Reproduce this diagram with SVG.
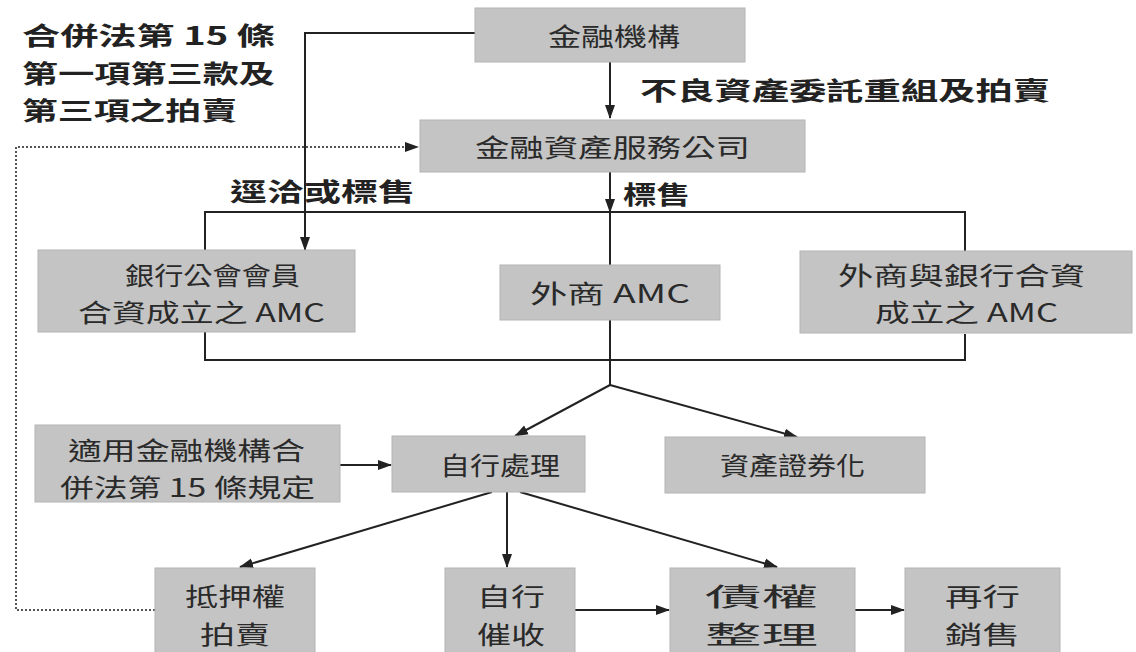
<svg xmlns="http://www.w3.org/2000/svg" width="1136" height="652" viewBox="0 0 1136 652">
<style>
.box{fill:#c4c4c4;stroke:#b4b4b4;stroke-width:1}
.bt{font-family:"Noto Sans CJK TC","Noto Sans CJK SC",sans-serif;font-size:25px;fill:#2a2a2a}
.lb{font-family:"Noto Sans CJK TC","Noto Sans CJK SC",sans-serif;font-size:25px;font-weight:bold;fill:#222}
.ln{fill:none;stroke:#222;stroke-width:2}
.dot{fill:none;stroke:#555;stroke-width:2;stroke-dasharray:2 2}
</style>
<defs>
<marker id="ah" markerWidth="14" markerHeight="12" refX="13" refY="6" orient="auto" markerUnits="userSpaceOnUse">
<path d="M0,1 L14,6 L0,11 Z" fill="#222"/>
</marker>
</defs>
<rect width="1136" height="652" fill="#fff"/>

<g id="labels">
<text class="lb" x="22" y="45" textLength="253" lengthAdjust="spacingAndGlyphs">合併法第 15 條</text>
<text class="lb" x="22" y="83" textLength="253" lengthAdjust="spacingAndGlyphs">第一項第三款及</text>
<text class="lb" x="22" y="120" textLength="215" lengthAdjust="spacingAndGlyphs">第三項之拍賣</text>
<text class="lb" x="640" y="100" textLength="410" lengthAdjust="spacingAndGlyphs">不良資產委託重組及拍賣</text>
<text class="lb" x="230" y="201" textLength="185" lengthAdjust="spacingAndGlyphs">逕洽或標售</text>
<text class="lb" x="623" y="204" textLength="67" lengthAdjust="spacingAndGlyphs">標售</text>
</g>

<g id="connectors">
<line class="ln" x1="610" y1="62" x2="610" y2="118" marker-end="url(#ah)"/>
<polyline class="ln" points="475,33 305,33 305,250" marker-end="url(#ah)"/>
<line class="ln" x1="610" y1="172" x2="610" y2="212" marker-end="url(#ah)"/>
<polyline class="dot" points="155,610 16,610 16,147 418,147" marker-end="url(#ah)"/>
<polyline class="ln" points="205,250 205,212 965,212 965,252"/>
<polyline class="ln" points="205,332 205,360 965,360 965,334"/>
<line class="ln" x1="610" y1="212" x2="610" y2="385"/>
<line class="ln" x1="610" y1="385" x2="515" y2="436" marker-end="url(#ah)"/>
<line class="ln" x1="610" y1="385" x2="797" y2="437" marker-end="url(#ah)"/>
<line class="ln" x1="340" y1="465" x2="391" y2="465" marker-end="url(#ah)"/>
<line class="ln" x1="492" y1="492" x2="240" y2="567" marker-end="url(#ah)"/>
<line class="ln" x1="507" y1="492" x2="507" y2="567" marker-end="url(#ah)"/>
<line class="ln" x1="520" y1="492" x2="777" y2="567" marker-end="url(#ah)"/>
<line class="ln" x1="575" y1="610" x2="669" y2="610" marker-end="url(#ah)"/>
<line class="ln" x1="855" y1="610" x2="904" y2="610" marker-end="url(#ah)"/>
</g>

<g id="n-jinrong">
<rect class="box" x="475" y="8" width="270" height="54"/>
<text class="bt" x="548" y="46" textLength="132" lengthAdjust="spacingAndGlyphs">金融機構</text>
</g>
<g id="n-amc-service">
<rect class="box" x="420" y="120" width="385" height="52"/>
<text class="bt" x="475" y="157" textLength="275" lengthAdjust="spacingAndGlyphs">金融資產服務公司</text>
</g>
<g id="n-bank-amc">
<rect class="box" x="38" y="250" width="317" height="82"/>
<text class="bt" x="125" y="285" textLength="175" lengthAdjust="spacingAndGlyphs">銀行公會會員</text>
<text class="bt" x="78" y="322" textLength="247" lengthAdjust="spacingAndGlyphs">合資成立之 AMC</text>
</g>
<g id="n-foreign-amc">
<rect class="box" x="500" y="265" width="220" height="55"/>
<text class="bt" x="530" y="303" textLength="160" lengthAdjust="spacingAndGlyphs">外商 AMC</text>
</g>
<g id="n-joint-amc">
<rect class="box" x="800" y="251" width="332" height="82"/>
<text class="bt" x="838" y="285" textLength="247" lengthAdjust="spacingAndGlyphs">外商與銀行合資</text>
<text class="bt" x="875" y="322" textLength="183" lengthAdjust="spacingAndGlyphs">成立之 AMC</text>
</g>
<g id="n-rule15">
<rect class="box" x="35" y="425" width="305" height="77"/>
<text class="bt" x="68" y="460" textLength="237" lengthAdjust="spacingAndGlyphs">適用金融機構合</text>
<text class="bt" x="60" y="497" textLength="255" lengthAdjust="spacingAndGlyphs">併法第 15 條規定</text>
</g>
<g id="n-self">
<rect class="box" x="392" y="436" width="193" height="56"/>
<text class="bt" x="440" y="475" textLength="120" lengthAdjust="spacingAndGlyphs">自行處理</text>
</g>
<g id="n-securitize">
<rect class="box" x="665" y="437" width="260" height="56"/>
<text class="bt" x="720" y="475" textLength="145" lengthAdjust="spacingAndGlyphs">資產證券化</text>
</g>
<g id="n-auction">
<rect class="box" x="155" y="568" width="160" height="90"/>
<text class="bt" x="185" y="606" textLength="100" lengthAdjust="spacingAndGlyphs">抵押權</text>
<text class="bt" x="200" y="644" textLength="70" lengthAdjust="spacingAndGlyphs">拍賣</text>
</g>
<g id="n-collect">
<rect class="box" x="445" y="568" width="130" height="90"/>
<text class="bt" x="477" y="606" textLength="68" lengthAdjust="spacingAndGlyphs">自行</text>
<text class="bt" x="477" y="644" textLength="68" lengthAdjust="spacingAndGlyphs">催收</text>
</g>
<g id="n-restructure">
<rect class="box" x="670" y="568" width="185" height="90"/>
<text class="bt" x="705" y="606" textLength="113" lengthAdjust="spacingAndGlyphs">債權</text>
<text class="bt" x="705" y="644" textLength="113" lengthAdjust="spacingAndGlyphs">整理</text>
</g>
<g id="n-resell">
<rect class="box" x="905" y="568" width="155" height="90"/>
<text class="bt" x="945" y="606" textLength="75" lengthAdjust="spacingAndGlyphs">再行</text>
<text class="bt" x="945" y="644" textLength="75" lengthAdjust="spacingAndGlyphs">銷售</text>
</g>
</svg>
